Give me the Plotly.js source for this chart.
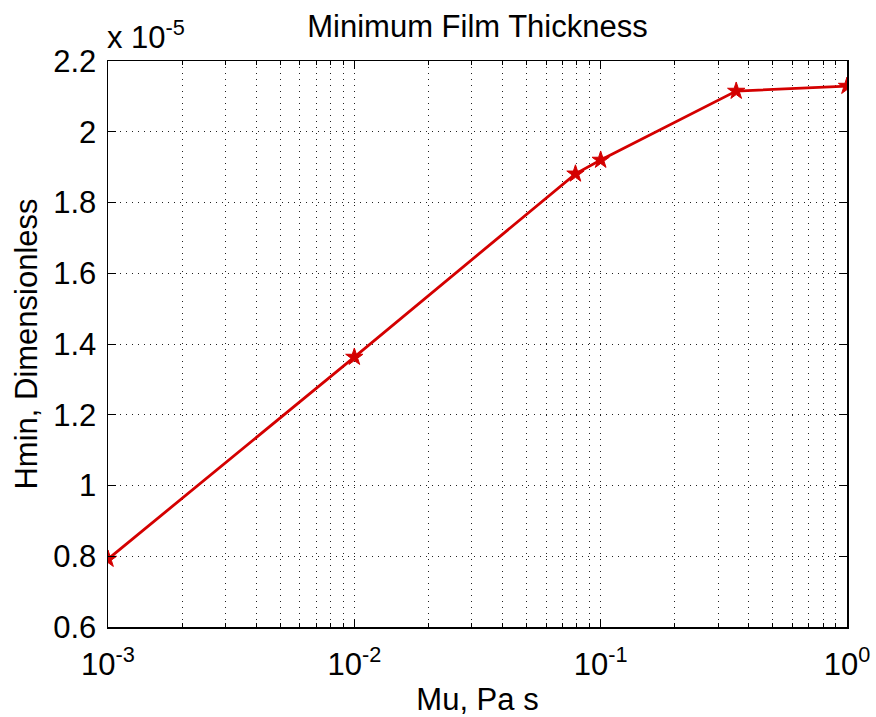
<!DOCTYPE html>
<html>
<head>
<meta charset="utf-8">
<script src="https://cdn.plot.ly/plotly-3.0.1.min.js"></script>
<style>
  html, body { margin: 0; padding: 0; background: #fff; }
  #chart { width: 876px; height: 717px; }
</style>
</head>
<body>
<div id="chart"></div>
<script>
// Viscosity (Pa s) and minimum film thickness (dimensionless, in units of 1e-5)
var mu = [0.001, 0.01, 0.079, 0.1, 0.355, 1];
var hminScaled = [0.792, 1.363, 1.881, 1.920, 2.115, 2.129];

// Axis tick labels
var xTickVals = [0.001, 0.01, 0.1, 1];
var xTickText = ['10<sup>-3</sup>', '10<sup>-2</sup>', '10<sup>-1</sup>', '10<sup>0</sup>'];
var yTickVals = [0.6, 0.8, 1.0, 1.2, 1.4, 1.6, 1.8, 2.0, 2.2];
var yTickText = ['0.6', '0.8', '1', '1.2', '1.4', '1.6', '1.8', '2', '2.2'];
var multiplierText = 'x 10<sup>-5</sup>';

// Minor log ticks at 2..9 within each decade
var minorVals = [];
for (var d = 0; d < xTickVals.length - 1; d++) {
  for (var k = 2; k <= 9; k++) minorVals.push(k * xTickVals[d]);
}

var FONT = 'Liberation Sans, Arial, Helvetica, sans-serif';
var FS = 31;
var RED = '#d40000';

var trace = {
  x: mu,
  y: hminScaled,
  type: 'scatter',
  mode: 'lines+markers',
  line: { color: RED, width: 2.8 },
  marker: { symbol: 'star', size: 13, color: RED, line: { color: RED, width: 1 } },
  hoverinfo: 'x+y'
};

var gridDash = '1px,5px';

var layout = {
  width: 876,
  height: 717,
  paper_bgcolor: '#fff',
  plot_bgcolor: '#fff',
  margin: { l: 108, r: 29, t: 61, b: 90 },
  showlegend: false,
  font: { family: FONT, color: '#000', size: FS },
  title: {
    text: 'Minimum Film Thickness',
    font: { family: FONT, size: FS, color: '#000' },
    x: 0.5, xref: 'paper', xanchor: 'center',
    y: 1 - 26 / 717, yref: 'container', yanchor: 'middle'
  },
  xaxis: {
    type: 'log',
    range: [-3, 0],
    tickvals: xTickVals,
    ticktext: xTickText,
    ticks: 'inside',
    ticklen: 8,
    tickwidth: 1,
    tickcolor: '#000',
    showline: true,
    linecolor: '#000',
    linewidth: 1.5,
    mirror: 'ticks',
    showgrid: true,
    gridcolor: '#222',
    gridwidth: 1,
    griddash: gridDash,
    zeroline: false,
    ticklabelstandoff: 9,
    tickfont: { family: FONT, size: FS, color: '#000' },
    minor: {
      tickvals: minorVals,
      ticks: 'inside',
      ticklen: 4,
      tickcolor: '#000',
      showgrid: true,
      gridcolor: '#222',
      gridwidth: 1,
      griddash: gridDash
    },
    title: {
      text: 'Mu, Pa s',
      font: { family: FONT, size: FS, color: '#000' },
      standoff: 8
    }
  },
  yaxis: {
    range: [0.6, 2.2],
    tickvals: yTickVals,
    ticktext: yTickText,
    ticks: 'inside',
    ticklen: 8,
    tickwidth: 1,
    tickcolor: '#000',
    showline: true,
    linecolor: '#000',
    linewidth: 1.5,
    mirror: 'ticks',
    showgrid: true,
    gridcolor: '#222',
    gridwidth: 1,
    griddash: gridDash,
    zeroline: false,
    ticklabelstandoff: 4,
    tickfont: { family: FONT, size: FS, color: '#000' },
    title: {
      text: 'Hmin, Dimensionless',
      font: { family: FONT, size: FS, color: '#000' },
      standoff: 6
    }
  },
  annotations: [{
    text: multiplierText,
    xref: 'paper', yref: 'paper',
    x: 0, y: 1,
    xanchor: 'left', yanchor: 'bottom',
    yshift: 4,
    xshift: -3,
    showarrow: false,
    font: { family: FONT, size: FS, color: '#000' }
  }]
};

Plotly.newPlot('chart', [trace], layout, { displayModeBar: false, staticPlot: true });
</script>
</body>
</html>
